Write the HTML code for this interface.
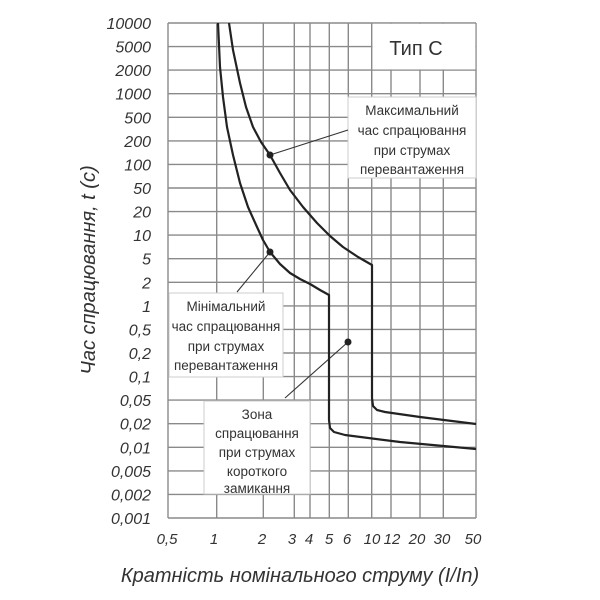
<!DOCTYPE html>
<html><head><meta charset="utf-8"><style>
html,body{margin:0;padding:0;background:#fff;}
svg{display:block;}
text{font-family:"Liberation Sans",sans-serif;fill:#333;}
</style></head><body>
<svg width="600" height="600" viewBox="0 0 600 600">
<g stroke="#8a8a8a" stroke-width="1.4" fill="none">
<path d="M168 23H476M168 46.6H476M168 70.1H476M168 93.7H476M168 117.3H476M168 140.9H476M168 164.4H476M168 188H476M168 211.6H476M168 235.1H476M168 258.7H476M168 282.3H476M168 305.9H476M168 329.4H476M168 353H476M168 376.6H476M168 400.1H476M168 423.7H476M168 447.3H476M168 470.9H476M168 494.4H476M168 518H476"/>
<path d="M168 23V518M216.7 23V518M263.3 23V518M294.3 23V518M310 23V518M329.3 23V518M348.3 23V518M371.7 23V518M391 23V518M420 23V518M443.3 23V518M476 23V518"/>
</g>
<rect x="372.5" y="23.8" width="102.8" height="45.6" fill="#fff"/>
<text x="416" y="55" font-size="20" text-anchor="middle">Тип С</text>
<rect x="348" y="97" width="128" height="81" fill="#fff" stroke="#ccc" stroke-width="1"/>
<g font-size="13.5" text-anchor="middle">
<text x="412" y="115">Максимальний</text>
<text x="412" y="135">час спрацювання</text>
<text x="412" y="155">при струмах</text>
<text x="412" y="174">перевантаження</text>
</g>
<rect x="169" y="293" width="114" height="84" fill="#fff" stroke="#ccc" stroke-width="1"/>
<g font-size="13.5" text-anchor="middle">
<text x="226" y="311">Мінімальний</text>
<text x="226" y="331">час спрацювання</text>
<text x="226" y="351">при струмах</text>
<text x="226" y="370">перевантаження</text>
</g>
<rect x="204" y="401" width="106" height="93" fill="#fff" stroke="#ccc" stroke-width="1"/>
<g font-size="13.5" text-anchor="middle">
<text x="257" y="419">Зона</text>
<text x="257" y="438">спрацювання</text>
<text x="257" y="457">при струмах</text>
<text x="257" y="476">короткого</text>
<text x="257" y="493">замикання</text>
</g>
<g stroke="#333" stroke-width="1.1">
<line x1="270" y1="155" x2="348" y2="130"/>
<line x1="270" y1="252" x2="237" y2="292"/>
<line x1="348" y1="342" x2="285" y2="398"/>
</g>
<g stroke="#222" stroke-width="2.2" fill="none" stroke-linejoin="round">
<polyline points="229,23 233,50 240,83 246,107 253,127 261,142 270,155 280,173 290,190 303,207 317,223 330,236 343,247 358,257 372,265 372,398 373,406 377,410 385,412 420,417 476,424"/>
<polyline points="218,23 219,45 220,67 223,97 227,127 233,155 240,183 248,207 257,227 263,240 270,252 280,264 290,273 300,279 310,284 320,290 329,295 329,420 330,428 334,432 345,435 400,442 476,449"/>
</g>
<g fill="#222">
<circle cx="270" cy="155" r="3.5"/>
<circle cx="270" cy="252" r="3.5"/>
<circle cx="348" cy="342" r="3.5"/>
</g>
<g font-size="16" font-style="italic" text-anchor="end">
<text x="151" y="29">10000</text>
<text x="151" y="52.6">5000</text>
<text x="151" y="76.1">2000</text>
<text x="151" y="99.7">1000</text>
<text x="151" y="123.3">500</text>
<text x="151" y="146.9">200</text>
<text x="151" y="170.4">100</text>
<text x="151" y="194">50</text>
<text x="151" y="217.6">20</text>
<text x="151" y="241.1">10</text>
<text x="151" y="264.7">5</text>
<text x="151" y="288.3">2</text>
<text x="151" y="311.9">1</text>
<text x="151" y="335.4">0,5</text>
<text x="151" y="359">0,2</text>
<text x="151" y="382.6">0,1</text>
<text x="151" y="406.1">0,05</text>
<text x="151" y="429.7">0,02</text>
<text x="151" y="453.3">0,01</text>
<text x="151" y="476.9">0,005</text>
<text x="151" y="500.4">0,002</text>
<text x="151" y="524">0,001</text>
</g>
<g font-size="15" font-style="italic" text-anchor="middle">
<text x="167" y="544">0,5</text>
<text x="214" y="544">1</text>
<text x="262" y="544">2</text>
<text x="292" y="544">3</text>
<text x="309" y="544">4</text>
<text x="329" y="544">5</text>
<text x="347" y="544">6</text>
<text x="372" y="544">10</text>
<text x="392" y="544">12</text>
<text x="417" y="544">20</text>
<text x="442" y="544">30</text>
<text x="473" y="544">50</text>
</g>
<text x="300" y="582" font-size="20" font-style="italic" text-anchor="middle">Кратність номінального струму (I/In)</text>
<text transform="translate(95,270) rotate(-90)" font-size="20" font-style="italic" text-anchor="middle">Час спрацювання, t (с)</text>
</svg>
</body></html>
